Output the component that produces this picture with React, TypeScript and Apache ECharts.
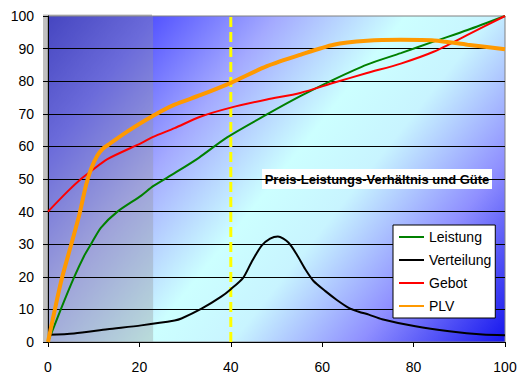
import React, { useEffect, useRef } from "react";
import * as echarts from "echarts";

const FONT = "'Liberation Sans', Arial, sans-serif";

const xTicks = [0, 20, 40, 60, 80, 100];
const yTicks = [0, 10, 20, 30, 40, 50, 60, 70, 80, 90, 100];

const leistungX = [0, 2.8, 5.7, 7.9, 9.4, 11.6, 15.2, 20.4, 23, 27.7, 33, 39.1, 47.9, 55.2, 62.5, 69.8, 77.2, 84.5, 91.8, 100];
const leistungY = [0, 10, 19.8, 26.4, 30, 35.1, 40, 44.9, 47.8, 51.8, 56.5, 62.7, 69.8, 75.4, 80.5, 85.1, 88.6, 92.2, 95.7, 100];

const verteilungX = [0, 5.7, 13, 20.4, 27.7, 29.2, 33.6, 37.9, 40, 42.7, 44.5, 46.7, 48.6, 50.3, 52.6, 54.4, 56.3, 58.1, 60.7, 63.2, 65.8, 68, 70.2, 73.1, 80.4, 87.8, 95.1, 100];
const verteilungY = [2.2, 2.6, 3.9, 5.1, 6.6, 7.2, 10.2, 13.9, 16.2, 19.7, 24.4, 29.5, 31.7, 32.4, 30.5, 26.9, 22.3, 18.7, 15.6, 12.9, 10.5, 9.3, 8.4, 7.0, 4.8, 3.3, 2.3, 2.1];

const gebotX = [0, 4.3, 7.2, 9.4, 13, 20.4, 23, 27.7, 33.3, 40, 47.9, 55.2, 62.5, 69.8, 77.2, 84.5, 91.8, 100];
const gebotY = [40, 46.2, 50, 52.4, 56.1, 61, 62.9, 65.6, 69.1, 71.9, 74.4, 76.4, 79.5, 82.5, 85.4, 89.1, 94.2, 100];

const plvX = [0, 2.8, 5, 6.8, 8.3, 9.4, 10.8, 12, 13.5, 17.4, 23, 27.7, 33.3, 40, 47.9, 55.2, 62.5, 69.8, 77.2, 84.5, 91.8, 100];
const plvY = [0, 18.2, 29.5, 38.7, 48, 53, 57.2, 59.3, 60.8, 64.6, 69.4, 72.8, 75.7, 79.5, 84.6, 88.1, 91.2, 92.4, 92.7, 92.5, 91.2, 89.8];

const shadedRange = [0, 23];
const markerX = 40;
const seriesNames = ["Leistung", "Verteilung", "Gebot", "PLV"];
const titleText = "Preis-Leistungs-Verhältnis und Güte";

const zip = (xs: number[], ys: number[]) => xs.map((x, i) => [x, ys[i]]);

export default function App() {
  const ref = useRef<HTMLDivElement>(null);
  useEffect(() => {
    if (!ref.current) return;
    const chart = echarts.init(ref.current, null, { renderer: "svg" });
    const lineSeries = (name: string, xs: number[], ys: number[], color: string, width: number) => ({
      name,
      type: "line",
      z: 3,
      symbol: "none",
      smooth: 0.25,
      data: zip(xs, ys),
      lineStyle: { color, width },
      itemStyle: { color },
    });
    const option: any = {
      animation: false,
      backgroundColor: "#ffffff",
      textStyle: { fontFamily: FONT },
      grid: {
        left: 48,
        right: 26,
        top: 16,
        bottom: 40,
        show: true,
        borderColor: "#808080",
        borderWidth: 1,
        backgroundColor: new echarts.graphic.LinearGradient(
          48, 16, 486, 365,
          [
            { offset: 0, color: "#1c1cd8" },
            { offset: 0.15, color: "#5555ff" },
            { offset: 0.32, color: "#a4aaff" },
            { offset: 0.5, color: "#ccffff" },
            { offset: 0.62, color: "#c8f4ff" },
            { offset: 0.8, color: "#8f8fff" },
            { offset: 1, color: "#1515ee" },
          ],
          true
        ),
      },
      legend: {
        data: seriesNames,
        orient: "vertical",
        left: 393,
        top: 225,
        padding: [5, 4, 5, 5],
        itemWidth: 25,
        itemHeight: 14,
        itemGap: 9,
        backgroundColor: "#ffffff",
        borderColor: "#000000",
        borderWidth: 1,
        borderRadius: 0,
        itemStyle: { opacity: 0 },
        textStyle: { fontSize: 14, color: "#000", fontFamily: FONT },
      },
      xAxis: {
        type: "value",
        min: xTicks[0],
        max: xTicks[xTicks.length - 1],
        interval: xTicks[1] - xTicks[0],
        z: 1,
        axisLine: { show: true, lineStyle: { color: "#000", width: 1 } },
        axisTick: { show: true, length: 5, inside: false, lineStyle: { color: "#000" } },
        axisLabel: { fontSize: 14, color: "#000", margin: 18, fontFamily: FONT },
        splitLine: { show: false },
      },
      yAxis: {
        type: "value",
        min: yTicks[0],
        max: yTicks[yTicks.length - 1],
        interval: yTicks[1] - yTicks[0],
        z: 1,
        axisLine: { show: true, lineStyle: { color: "#000", width: 1 } },
        axisTick: { show: true, length: 5, inside: false, lineStyle: { color: "#000" } },
        axisLabel: { fontSize: 14, color: "#000", margin: 14, fontFamily: FONT },
        splitLine: { show: true, showMaxLine: false, lineStyle: { color: "#000", width: 1 } },
      },
      graphic: [
        {
          type: "rect",
          z: -10,
          shape: { x: 43, y: 14.5, width: 109, height: 328 },
          style: { fill: "#c0c0c0" },
        },
        {
          type: "group",
          z: 100,
          children: [
            {
              type: "rect",
              shape: { x: 262, y: 169, width: 230, height: 20 },
              style: { fill: "#ffffff" },
            },
            {
              type: "text",
              x: 377,
              y: 179.5,
              style: {
                text: titleText,
                fontFamily: FONT,
                fontSize: 13,
                fontWeight: "bold",
                fill: "#000",
                align: "center",
                verticalAlign: "middle",
              },
            },
          ],
        },
      ],
      series: [
        {
          name: "shaded",
          type: "line",
          z: 0,
          silent: true,
          symbol: "none",
          data: [
            [shadedRange[0], yTicks[yTicks.length - 1]],
            [shadedRange[1], yTicks[yTicks.length - 1]],
          ],
          lineStyle: { width: 0, opacity: 0 },
          areaStyle: { color: "rgba(150,150,150,0.5)", origin: "start" },
        },
        {
          name: "marker",
          type: "line",
          z: 2,
          silent: true,
          symbol: "none",
          data: [
            [markerX, yTicks[0]],
            [markerX, yTicks[yTicks.length - 1]],
          ],
          lineStyle: { color: "#ffff00", width: 3, type: [10, 5] },
        },
        lineSeries("Leistung", leistungX, leistungY, "#008000", 2),
        lineSeries("Verteilung", verteilungX, verteilungY, "#000000", 2),
        lineSeries("Gebot", gebotX, gebotY, "#ff0000", 2),
        lineSeries("PLV", plvX, plvY, "#ff9900", 4),
      ],
    };
    chart.setOption(option);
    return () => chart.dispose();
  }, []);
  return (
    <div
      ref={ref}
      style={{ position: "absolute", left: 0, top: 0, width: 531, height: 382 }}
    />
  );
}
